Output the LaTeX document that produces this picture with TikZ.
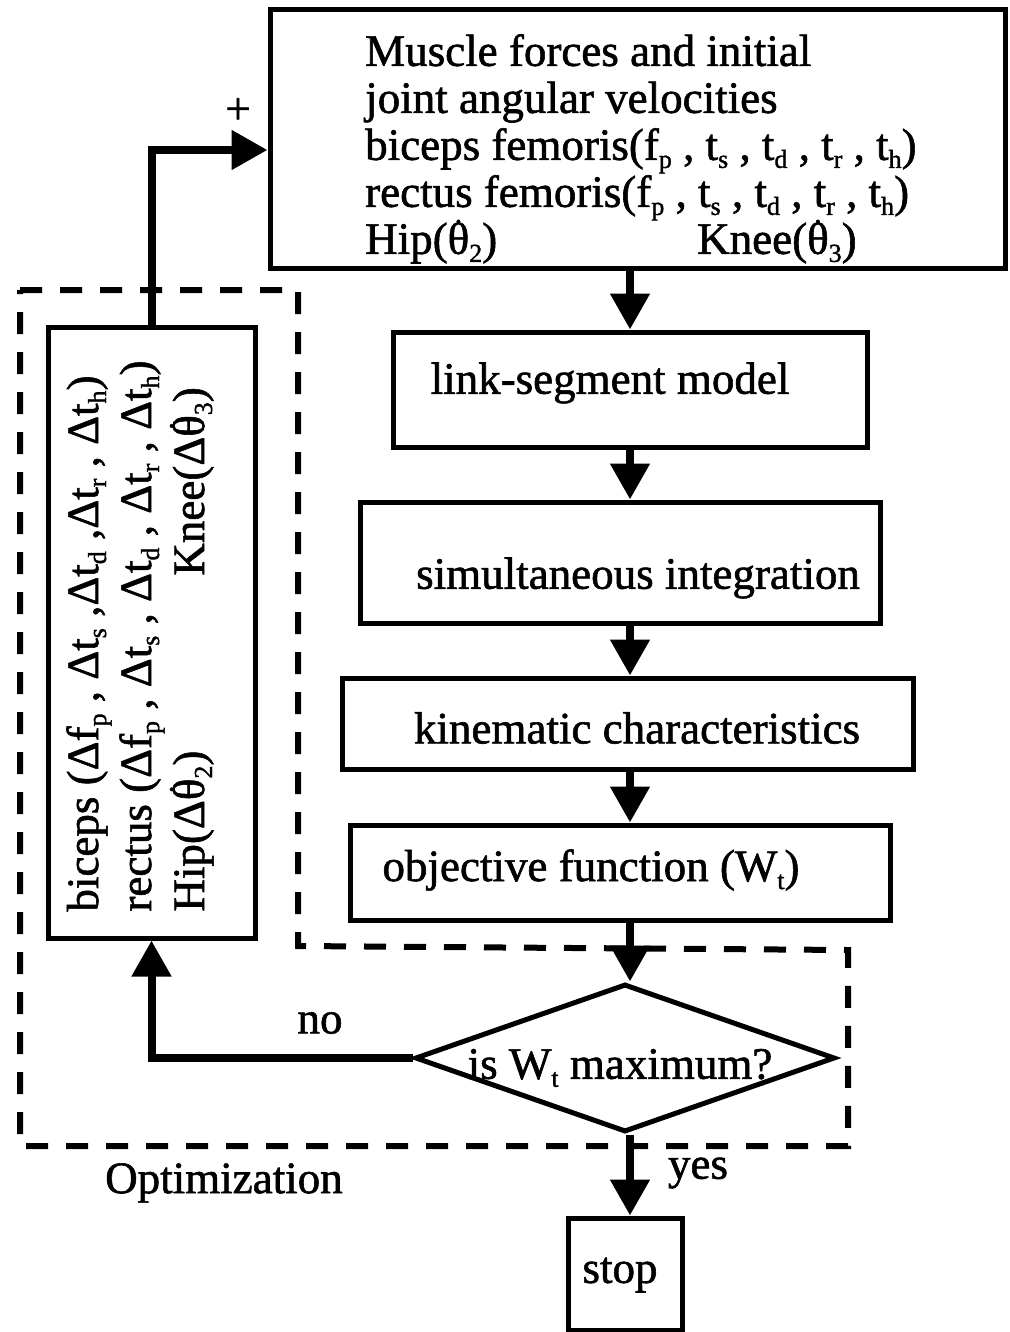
\documentclass[tikz,border=0pt]{standalone}
\usepackage{fontspec}
\setmainfont{Liberation Serif}[FakeBold=1.3]
\usetikzlibrary{arrows.meta,shapes.geometric}

% small lowered index and dotted theta
\newcommand\lowsub[1]{\raisebox{-8pt}{\fontsize{26}{26}\selectfont #1}}
\newcommand\thdot{\ooalign{θ\cr\hidewidth\raisebox{31pt}{\fontsize{30}{30}\selectfont .}\hidewidth\cr}}

\tikzset{
  blk/.style={draw, line width=5pt, inner sep=0pt},
  conn/.style={line width=8pt, -{Triangle[width=38pt,length=36pt]}},
  lbl/.style={inner sep=0pt, font=\fontsize{45}{47}\selectfont},
}

\begin{document}
\begin{tikzpicture}[x=1pt,y=-1pt]
\useasboundingbox (0,0) rectangle (1009,1332);

%Dashed frame round the optimization loop
\draw [line width=6pt, dash pattern={on 22pt off 18pt}] (20,290) -- (298,290) -- (298,946) -- (848,950) -- (848,1146) -- (20,1146) -- cycle;

%Input box
\node [blk, minimum width=735pt, minimum height=258pt] (muscle) at (637.5,139) {};
\node [lbl, anchor=north west, align=left] (muscletxt) at (365,34) {Muscle forces and initial\\
  joint angular velocities\\
  biceps femoris(f\lowsub{p} , t\lowsub{s} , t\lowsub{d} , t\lowsub{r} , t\lowsub{h})\\
  rectus femoris(f\lowsub{p} , t\lowsub{s} , t\lowsub{d} , t\lowsub{r} , t\lowsub{h})\\
  Hip(\thdot\lowsub{2})\hspace{200pt}Knee(\thdot\lowsub{3})};

%Increment box (rotated text)
\node [blk, minimum width=207pt, minimum height=611pt] (opt) at (151.5,632.5) {};
\node [lbl, rotate=90, align=left, font=\fontsize{45}{53}\selectfont] (opttxt) at (140,636) {biceps (Δf\lowsub{p} , Δt\lowsub{s} ,Δt\lowsub{d} ,Δt\lowsub{r} , Δt\lowsub{h})\\
  rectus (Δf\lowsub{p} , Δt\lowsub{s} , Δt\lowsub{d} , Δt\lowsub{r} , Δt\lowsub{h})\\
  Hip(Δ\thdot\lowsub{2})\hspace{175pt}Knee(Δ\thdot\lowsub{3})};

%Model chain
\node [blk, minimum width=474pt, minimum height=115pt] (link) at (630,389.5) {};
\node [lbl] (linktxt) at (610,383) {link-segment model};
\node [blk, minimum width=520pt, minimum height=121pt] (simul) at (620,562.5) {};
\node [lbl] (simultxt) at (638,578) {simultaneous integration};
\node [blk, minimum width=571pt, minimum height=91pt] (kine) at (627.5,723.5) {};
\node [lbl] (kinetxt) at (637,728) {kinematic characteristics};
\node [blk, minimum width=540pt, minimum height=95pt] (obj) at (620,872.5) {};
\node [lbl] (objtxt) at (591,870) {objective function (W\lowsub{t})};

%Decision and end
\node [blk, diamond, aspect=2.84, minimum width=420pt, minimum height=148pt] (check) at (625,1058) {};
\node [lbl] (checktxt) at (620,1068) {is W\lowsub{t} maximum?};
\node [blk, minimum width=114pt, minimum height=112pt] (stop) at (625,1274) {};
\node [lbl] (stoptxt) at (620,1275) {stop};

% Text Node
\node [lbl] (plus) at (238,111) {+};
\node [lbl] (no) at (320,1023) {no};
\node [lbl] (yes) at (698,1173) {yes};
\node [lbl, anchor=west] (opttitle) at (105,1183) {Optimization};

%Arrows
\coordinate (col) at (630,0);
\draw [conn] (muscle.south -| col) -- (link.north -| col);
\draw [conn] (link.south -| col) -- (simul.north -| col);
\draw [conn] (simul.south -| col) -- (kine.north -| col);
\draw [conn] (kine.south -| col) -- (obj.north -| col);
\draw [conn] (obj.south -| col) -- (check.north -| col);
\draw [conn] (check.south -| col) -- (stop.north -| col);
\draw [conn] (opt.north) |- ([yshift=-11pt]muscle.west);
\draw [conn] (check.west) -| (opt.south);

\end{tikzpicture}
\end{document}
